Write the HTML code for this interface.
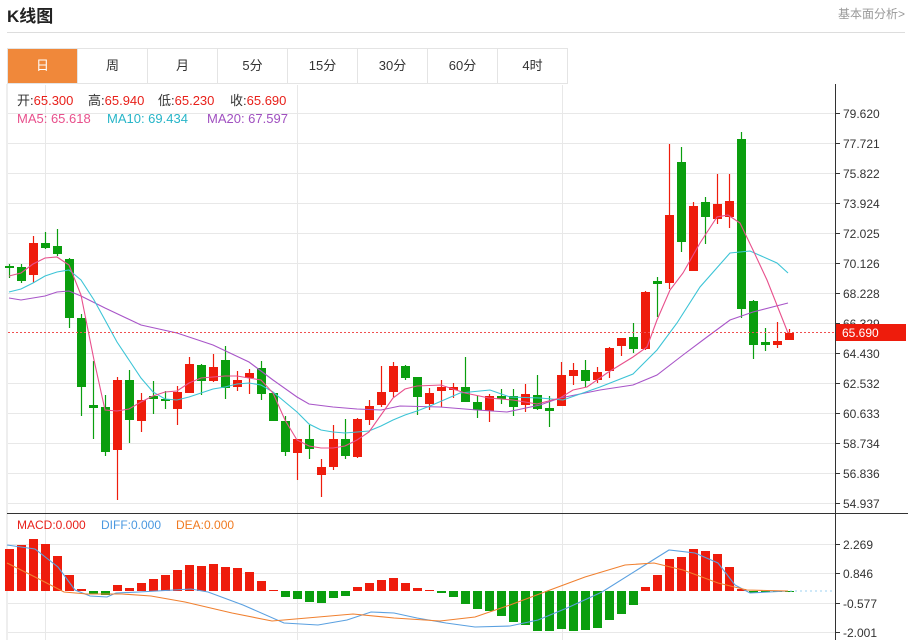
<!DOCTYPE html>
<html><head><meta charset="utf-8"><style>
body{margin:0;width:908px;height:640px;background:#fff;overflow:hidden;font-family:"Liberation Sans","Noto Sans CJK SC",sans-serif;position:relative}
.t{position:absolute;white-space:nowrap}
.tabs{position:absolute;left:7px;top:48px;height:36px;display:flex;border:1px solid #e4e4e4;border-right:none;box-sizing:border-box}
.tabs div{width:70px;height:34px;line-height:34px;text-align:center;font-size:13px;color:#333;border-right:1px solid #e4e4e4;box-sizing:border-box}
.tabs div.on{background:#f0883a;color:#fff}
</style></head><body>
<div class="t" style="left:7px;top:2px;font-size:17px;font-weight:bold;color:#222">K线图</div>
<div class="t" style="left:838px;top:5px;font-size:12px;color:#999">基本面分析&gt;</div>
<div style="position:absolute;left:7px;top:32px;width:898px;height:1px;background:#ddd"></div>
<div class="tabs"><div class="on">日</div><div>周</div><div>月</div><div>5分</div><div>15分</div><div>30分</div><div>60分</div><div>4时</div></div>
<svg id="s" width="908" height="640" style="position:absolute;left:0;top:0" xmlns="http://www.w3.org/2000/svg" font-family="Liberation Sans, sans-serif">
<g id="grid"></g>
<line x1="7" y1="84" x2="7" y2="640" stroke="#ddd"/>
<line x1="835.5" y1="84" x2="835.5" y2="640" stroke="#333"/>
<line x1="7" y1="513.5" x2="908" y2="513.5" stroke="#333"/>
<g id="c"></g>
<g id="ax" font-size="12" fill="#333"></g>
<line x1="8" y1="332.5" x2="835" y2="332.5" stroke="#f05050" stroke-dasharray="2,2"/>
<rect x="836" y="324" width="70" height="17" fill="#ee1c0c"/>
<text x="842" y="337" font-size="12" fill="#fff">65.690</text>
<text x="17" y="105" font-size="13" fill="#333">开:<tspan fill="#e8201a">65.300</tspan></text>
<text x="88" y="105" font-size="13" fill="#333">高:<tspan fill="#e8201a">65.940</tspan></text>
<text x="158" y="105" font-size="13" fill="#333">低:<tspan fill="#e8201a">65.230</tspan></text>
<text x="230" y="105" font-size="13" fill="#333">收:<tspan fill="#e8201a">65.690</tspan></text>
<text x="17" y="123" font-size="13" fill="#e8508c">MA5: 65.618</text>
<text x="107" y="123" font-size="13" fill="#27b5c8">MA10: 69.434</text>
<text x="207" y="123" font-size="13" fill="#a050c0">MA20: 67.597</text>
<text x="17" y="529" font-size="12" fill="#e8201a">MACD:0.000</text>
<text x="101" y="529" font-size="12" fill="#4a98e0">DIFF:0.000</text>
<text x="176" y="529" font-size="12" fill="#f07a20">DEA:0.000</text>
</svg>
<script>
var NS="http://www.w3.org/2000/svg";
function el(p,t,a){var e=document.createElementNS(NS,t);for(var k in a)e.setAttribute(k,a[k]);document.getElementById(p).appendChild(e);return e;}
var g="grid";
var labs=["79.620","77.721","75.822","73.924","72.025","70.126","68.228","66.329","64.430","62.532","60.633","58.734","56.836","54.937"];
labs.forEach(function(l,i){var y=113+i*30.0;if(i==13)y=503;
 el(g,"line",{x1:8,x2:835,y1:y+.5,y2:y+.5,stroke:"#e8e8e8"});
 el("ax","line",{x1:835,x2:840,y1:y+.5,y2:y+.5,stroke:"#333"});
 var t=el("ax","text",{x:843,y:y+5});t.textContent=l;
});
var ml=[[544,"2.269"],[573,"0.846"],[603,"-0.577"],[632,"-2.001"]];
ml.forEach(function(m){el(g,"line",{x1:8,x2:835,y1:m[0]+.5,y2:m[0]+.5,stroke:"#e8e8e8"});
 el("ax","line",{x1:835,x2:840,y1:m[0]+.5,y2:m[0]+.5,stroke:"#333"});
 var t=el("ax","text",{x:843,y:m[0]+5});t.textContent=m[1];});
[45,297,562].forEach(function(x){el(g,"line",{x1:x+.5,x2:x+.5,y1:85,y2:640,stroke:"#e8e8e8"});});
var R="#ee1c0c",G="#0a9e0e";
var C=[["g",266,268,264,278],["g",267,281,264,283],["r",243,275,236,283],["g",243,248,232,249],["g",246,254,229,256],["g",259,318,258,328],["g",318,387,314,416],["g",405,408,361,439],["g",407,452,395,456],["r",380,450,377,500],["g",380,420,370,443],["r",400,421,393,432],["g",396,399,381,414],["g",399,401,391,409],["r",392,409,386,425],["r",364,393,357,393],["g",365,381,364,395],["r",367,381,354,382],["g",360,388,346,399],["r",380,387,371,391],["r",373,378,369,394],["g",368,394,361,400],["g",393,421,393,421],["g",421,452,416,456],["r",439,453,439,480],["g",439,449,425,459],["r",467,475,459,497],["r",439,467,425,470],["g",439,456,419,459],["r",419,457,418,458],["r",406,420,400,425],["r",392,405,366,407],["r",366,392,362,397],["g",366,378,365,380],["g",377,397,377,415],["r",393,404,388,410],["r",387,391,380,407],["r",387,390,383,398],["g",387,402,357,402],["g",402,410,396,418],["r",396,411,394,422],["g",396,399,389,404],["g",396,407,389,416],["r",394,405,384,412],["g",395,409,375,410],["g",408,411,396,427],["r",375,406,362,406],["r",370,376,363,385],["g",370,381,360,387],["r",372,380,367,383],["r",348,371,347,378],["r",338,346,338,356],["g",337,349,323,353],["r",292,349,291,350],["g",281,284,277,317],["r",215,283,144,289],["g",162,242,147,252],["r",206,271,202,271],["g",202,217,197,244],["r",204,219,174,224],["r",201,217,174,228],["g",139,309,132,318],["g",301,345,300,359],["g",342,345,328,351],["r",341,345,322,348],["r",333,340,329,340]];
C.forEach(function(c,i){var x=9+12*i,col=c[0]=="r"?R:G;
 el("c","line",{x1:x+.5,x2:x+.5,y1:c[3],y2:c[4],stroke:col,"stroke-width":1.2});
 el("c","rect",{x:x-4,y:c[1],width:9,height:Math.max(2,c[2]-c[1]),fill:col});});
function pl(pts,col){el("c","polyline",{points:pts.map(function(p){return p.join(",")}).join(" "),fill:"none",stroke:col,"stroke-width":1.1});}
pl([[9,298],[21,300],[45,296],[57,292],[69,291],[81,296],[105,308],[141,325],[177,333],[213,345],[249,362],[273,380],[297,397],[309,404],[333,407],[357,409],[381,410],[400,406],[440,407],[477,410],[507,412],[540,405],[560,398],[600,390],[633,385],[657,375],[683,355],[707,337],[730,320],[753,312],[788,303]],"#a855c8");
pl([[9,292],[21,289],[33,283],[45,276],[57,272],[69,270],[81,280],[94,300],[105,320],[117,342],[129,360],[141,378],[153,392],[165,399],[177,400],[189,397],[201,393],[213,389],[225,387],[237,384],[249,383],[261,385],[273,392],[285,402],[297,412],[309,424],[321,430],[333,432],[345,433],[357,432],[369,431],[381,426],[393,420],[405,415],[417,411],[430,406],[460,393],[490,390],[510,397],[540,398],[563,400],[600,387],[633,374],[657,350],[677,323],[700,287],[730,253],[750,251],[777,263],[788,273]],"#3cc4d6");
pl([[9,276],[21,273],[33,264],[45,258],[57,257],[69,265],[81,295],[94,360],[105,410],[117,411],[129,409],[141,402],[153,396],[165,392],[177,391],[189,383],[201,378],[213,377],[225,376],[237,376],[249,378],[261,380],[273,393],[285,420],[297,440],[309,446],[321,448],[333,448],[345,446],[357,440],[369,432],[381,415],[393,398],[405,389],[417,386],[441,385],[453,389],[465,393],[489,398],[513,400],[537,404],[560,398],[573,390],[587,387],[607,373],[633,357],[647,347],[657,320],[670,290],[683,273],[700,243],[717,217],[728,215],[740,223],[753,250],[767,280],[788,333]],"#e8508c");
var M=[549,545,539,544,556,575,589,594,595,585,588,583,579,575,570,565,566,564,567,568,572,581,590,597,599,602,603,598,596,587,583,580,578,583,588,590,593,597,604,609,611,616,622,625,631,631,629,631,630,628,620,614,605,587,575,559,557,549,551,554,567,589,593,592,591,591];
M.forEach(function(y,i){var x=9+12*i,z=591;
 if(y<z)el("c","rect",{x:x-4,y:y,width:9,height:z-y,fill:R});
 else el("c","rect",{x:x-4,y:z,width:9,height:Math.max(1,y-z),fill:G});});
el("c","line",{x1:790,x2:835,y1:591,y2:591,stroke:"#9cd0f0","stroke-dasharray":"2,3"});
pl([[7,545],[35,549],[58,567],[75,590],[90,596],[107,597],[116,593],[139,592],[174,590],[191,589],[208,592],[243,605],[284,623],[318,625],[347,620],[371,612],[394,613],[417,618],[446,623],[475,627],[510,626],[538,620],[567,608],[602,592],[637,570],[669,550],[695,553],[718,563],[735,585],[750,593],[788,591]],"#5aa0e0");
pl([[7,563],[35,577],[64,592],[87,594],[122,594],[151,596],[185,602],[232,613],[272,621],[307,618],[353,614],[394,618],[440,621],[475,617],[510,605],[550,590],[585,577],[625,565],[654,563],[683,570],[718,583],[747,590],[788,591]],"#f08030");
</script>
</body></html>
